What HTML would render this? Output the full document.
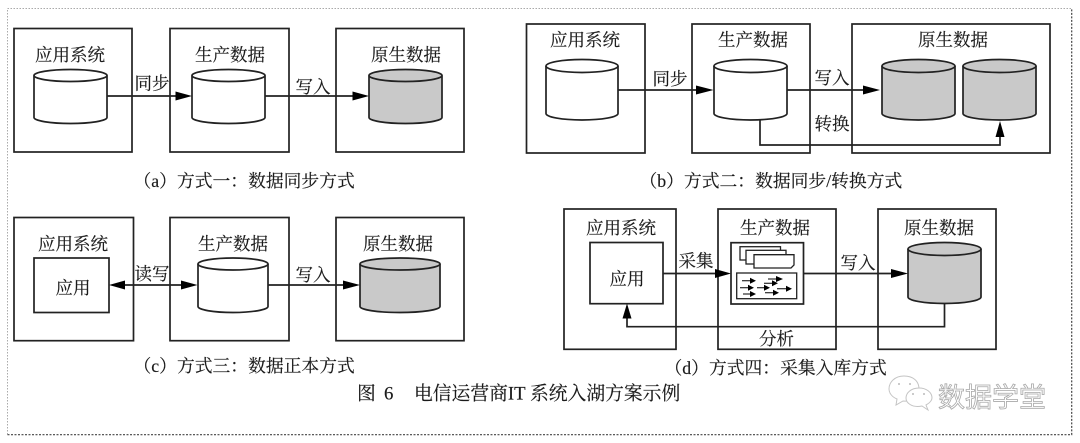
<!DOCTYPE html>
<html><head><meta charset="utf-8"><style>
html,body{margin:0;padding:0;background:#fff}
svg{display:block}
text{font-family:"Liberation Serif","Noto Serif CJK SC",serif;fill:#1a1a1a;stroke:#1a1a1a;stroke-width:.15}
.l{font-size:17.5px;text-anchor:middle}
.c{font-size:17.8px}
.f{font-size:18.8px}
.b{fill:#fff;stroke:#222;stroke-width:1.7}
.n{fill:none;stroke:#222;stroke-width:1.7}
.g{fill:#c9c9c9;stroke:#222;stroke-width:1.7}
.w{fill:#fff;stroke:#222;stroke-width:1.7}
.a{fill:#000;stroke:none}
</style></head><body>
<svg width="1080" height="443" viewBox="0 0 1080 443" xmlns="http://www.w3.org/2000/svg">
<path d="M7.500 434.500V8.500H1071.500" fill="none" stroke="#aaa" stroke-width="1" stroke-dasharray="1.500 1.500"/>
<path d="M7.500 434.700H1071.700V8.500" fill="none" stroke="#444" stroke-width="1.200" stroke-dasharray="2 1.500"/>
<g style="filter:blur(.35px)">
<!-- a -->
<rect class="b" x="14" y="28.500" width="118" height="123.500"/>
<rect class="b" x="170" y="28.500" width="119" height="123.500"/>
<rect class="b" x="336" y="28.500" width="128" height="123.500"/>
<path class="w" d="M34 75.500A36.500 6 0 0 1 107 75.500V117.500A36.500 6 0 0 1 34 117.500Z"/><path class="n" d="M34 75.500A36.500 6 0 0 0 107 75.500"/>
<path class="w" d="M192 75.500A36.500 6 0 0 1 265 75.500V117.500A36.500 6 0 0 1 192 117.500Z"/><path class="n" d="M192 75.500A36.500 6 0 0 0 265 75.500"/>
<path class="g" d="M369 75.500A36.500 6 0 0 1 442 75.500V117.500A36.500 6 0 0 1 369 117.500Z"/><path class="n" d="M369 75.500A36.500 6 0 0 0 442 75.500"/>
<path class="n" d="M107 96H178M265 96H355"/>
<path class="a" d="M175.500 91.500L192 96L175.500 100.500Z"/><path class="a" d="M352.500 91.500L369 96L352.500 100.500Z"/>
<text class="l" x="70" y="61">应用系统</text><text class="l" x="230" y="61">生产数据</text><text class="l" x="406" y="61">原生数据</text>
<text class="l" x="152" y="89.500">同步</text><text class="l" x="313" y="93">写入</text>
<text class="c" x="133.500" y="187">（a）方式一：数据同步方式</text>
<!-- b -->
<rect class="b" x="526.500" y="24" width="118.500" height="129"/>
<rect class="b" x="692" y="24" width="118" height="129"/>
<rect class="b" x="852" y="24" width="198" height="129"/>
<path class="w" d="M546 66A36 6.500 0 0 1 618 66V113.500A36 6.500 0 0 1 546 113.500Z"/><path class="n" d="M546 66A36 6.500 0 0 0 618 66"/>
<path class="w" d="M714 66A36.500 6.500 0 0 1 787 66V113.500A36.500 6.500 0 0 1 714 113.500Z"/><path class="n" d="M714 66A36.500 6.500 0 0 0 787 66"/>
<path class="g" d="M882 66A36.500 6.500 0 0 1 955 66V113.500A36.500 6.500 0 0 1 882 113.500Z"/><path class="n" d="M882 66A36.500 6.500 0 0 0 955 66"/>
<path class="g" d="M963 66A36.500 6.500 0 0 1 1036 66V113.500A36.500 6.500 0 0 1 963 113.500Z"/><path class="n" d="M963 66A36.500 6.500 0 0 0 1036 66"/>
<path class="n" d="M618 90H700M787 90H868M760 120V145H1000V132"/>
<path class="a" d="M696 85.500L713.500 90L696 94.500Z"/><path class="a" d="M863 85.500L880 90L863 94.500Z"/><path class="a" d="M995.500 137L1000 121L1004.500 137Z"/>
<text class="l" x="585" y="46">应用系统</text><text class="l" x="753" y="46">生产数据</text><text class="l" x="953" y="46">原生数据</text>
<text class="l" x="670" y="85">同步</text><text class="l" x="832" y="84">写入</text><text class="l" x="832" y="130">转换</text>
<text class="c" x="639.500" y="187">（b）方式二：数据同步/转换方式</text>
<!-- c -->
<rect class="b" x="14" y="217.500" width="119.500" height="123.200"/>
<rect class="b" x="170" y="217.500" width="119" height="123.200"/>
<rect class="b" x="336" y="217.500" width="128" height="123.200"/>
<rect class="b" x="34" y="258" width="75" height="54.500"/>
<path class="w" d="M198 264A35 6 0 0 1 268 264V306.500A35 6 0 0 1 198 306.500Z"/><path class="n" d="M198 264A35 6 0 0 0 268 264"/>
<path class="g" d="M360 264A40 6 0 0 1 440 264V306.500A40 6 0 0 1 360 306.500Z"/><path class="n" d="M360 264A40 6 0 0 0 440 264"/>
<path class="n" d="M120 285H186M268 285H350"/>
<path class="a" d="M109 285L125 280.500V289.500Z"/><path class="a" d="M181 280.500L197.500 285L181 289.500Z"/><path class="a" d="M343 280.500L360 285L343 289.500Z"/>
<text class="l" x="73" y="250">应用系统</text><text class="l" x="233" y="250">生产数据</text><text class="l" x="398" y="250">原生数据</text>
<text class="l" x="73" y="294">应用</text><text class="l" x="152" y="280">读写</text><text class="l" x="313" y="281">写入</text>
<text class="c" x="133.500" y="372">（c）方式三：数据正本方式</text>
<!-- d -->
<rect class="b" x="564" y="209" width="112" height="140.300"/>
<rect class="b" x="718" y="209" width="118" height="140.300"/>
<rect class="b" x="878" y="209" width="118" height="140.300"/>
<rect class="b" x="590" y="242.500" width="73" height="61.200"/>
<path class="g" d="M908 249A36.500 6.500 0 0 1 981 249V297A36.500 6.500 0 0 1 908 297Z"/><path class="n" d="M908 249A36.500 6.500 0 0 0 981 249"/>
<path class="n" d="M663 273.500H725M804 273.500H897M944.500 303V326.700H627V316"/>
<path class="a" d="M715 269L731 273.500L715 278Z"/><path class="a" d="M891 269L908 273.500L891 278Z"/><path class="a" d="M622.500 318.500L627 303.500L631.500 318.500Z"/>
<rect class="b" x="731" y="242.700" width="72.500" height="61.300"/>
<rect class="b" x="740" y="246.700" width="40.500" height="13.300" style="stroke-width:1.300"/>
<rect class="b" x="746" y="250.300" width="40" height="13.700" style="stroke-width:1.300"/>
<path class="b" d="M754 254.700H794V265L791 268H754Z" style="stroke-width:1.300"/>
<rect class="b" x="736.700" y="273" width="60" height="25.700" style="stroke-width:1.300"/>
<g>
<path d="M742 280.700H752M740 287.700H750M743 294H752M757 287.700H766M768 279H778M764 283.300H774M765 292.700H775M777 288.700H788" fill="none" stroke="#000" stroke-width="1"/>
<path d="M750 277.700L756 280.700L750 283.700ZM748 284.700L754 287.700L748 290.700ZM750 291L756 294L750 297ZM764 284.700L770 287.700L764 290.700ZM776 276L783 279L776 282ZM772 280.300L778 283.300L772 286.300ZM773 289.700L779 292.700L773 295.700ZM786 285.700L792 288.700L786 291.700Z" fill="#000"/>
</g>
<text class="l" x="621" y="234">应用系统</text><text class="l" x="775" y="234">生产数据</text><text class="l" x="939" y="234">原生数据</text>
<text class="l" x="627" y="285">应用</text><text class="l" x="696" y="267">采集</text><text class="l" x="858" y="269">写入</text><text class="l" x="776.500" y="345">分析</text>
<text class="c" x="664.500" y="374">（d）方式四：采集入库方式</text>
<!-- fig -->
<text class="f" x="357" y="399.500">图</text><text class="f" x="384" y="399.500">6</text>
<text class="f" x="414" y="399.500">电信运营商IT 系统入湖方案示例</text>
</g>
<!-- watermark -->
<g fill="#fff" stroke="#c4c4c4" stroke-width="1">
<path d="M897 399L896 405L903 401C915 402 919 396 919 389C919 381 913 376 904 376C895 376 889 382 889 389C889 393 892 397 897 399Z"/>
<path d="M922 406L928 410L926 405C930 403 932 400 932 398C932 392 926 388 919 388C911 388 906 393 906 398C906 403 912 408 922 406Z"/>
</g>
<g fill="#bbb"><circle cx="899" cy="384" r="1"/><circle cx="910" cy="384" r="1"/><circle cx="913" cy="394" r="1"/><circle cx="924" cy="394" r="1"/></g>
<text x="938" y="407" style="font-size:27px;fill:#fff;stroke:#a8a8a8;stroke-width:.8;font-family:'Noto Sans CJK SC',sans-serif">数据学堂</text>
</svg>
</body></html>
